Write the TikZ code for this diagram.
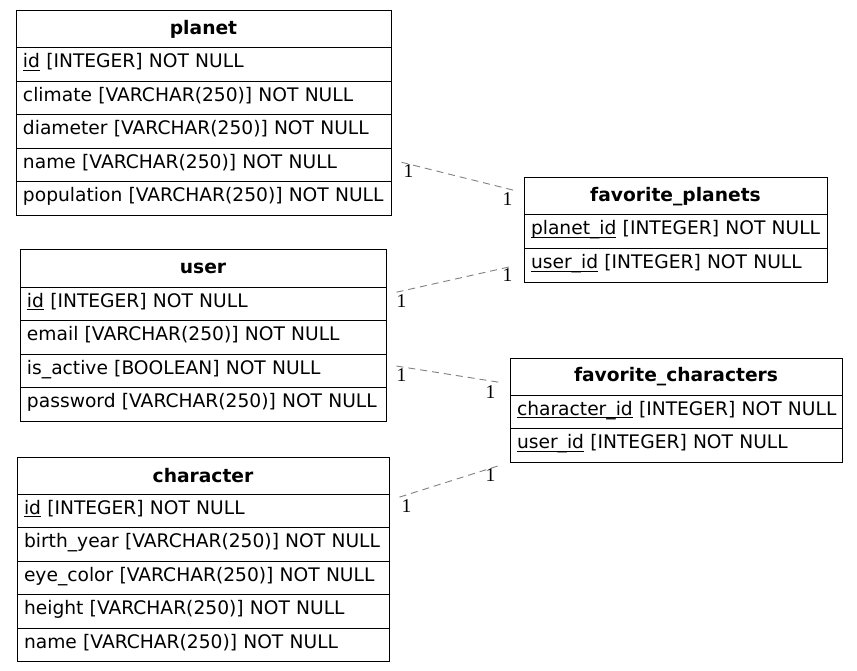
\documentclass[tikz,border=0pt]{standalone}
\usepackage{fontspec}
\setmainfont{DejaVu Sans}
\newfontfamily\lblfont{Liberation Serif}
\newcommand\keyul[1]{\setbox0=\hbox{#1}\rlap{\rule[-3pt]{\wd0}{0.9pt}}\copy0\relax}
\begin{document}
\begin{tikzpicture}[x=1pt,y=-1pt,
  tbl/.style={draw, line width=1pt, inner sep=0pt, outer sep=10.5pt},
  hdr/.style={draw, line width=1pt, anchor=north west, inner sep=0pt, outer sep=0pt,
    minimum height=37pt, font=\fontsize{18.67pt}{22pt}\selectfont\bfseries},
  fld/.style={draw, line width=1pt, anchor=north west, inner xsep=7pt, inner ysep=0pt, outer sep=0pt,
    minimum height=33.5pt, text height=14pt, text depth=7.5pt, align=left, font=\fontsize{18.67pt}{22pt}\selectfont},
  conn/.style={draw={rgb,255:red,128;green,128;blue,128}, line width=0.9pt, dash pattern=on 7pt off 5pt},
  lbl/.style={inner sep=0pt, font=\lblfont\fontsize{19.5pt}{22pt}\selectfont}
]
\useasboundingbox (0,0) rectangle (857,671);

% planet: x 16-391, y 11-215
\node[tbl, minimum width=375pt, minimum height=204.5pt] (planet) at (203.5,113.25) {};
\node[hdr, minimum width=375pt] (planet-h) at (16,11) {planet};
\node[fld, text width=361pt] (planet-r1) at (16,48) {\mbox{\keyul{id} [INTEGER] NOT NULL}};
\node[fld, text width=361pt] (planet-r2) at (16,81.5) {\mbox{climate [VARCHAR(250)] NOT NULL}};
\node[fld, text width=361pt] (planet-r3) at (16,115) {\mbox{diameter [VARCHAR(250)] NOT NULL}};
\node[fld, text width=361pt] (planet-r4) at (16,148.5) {\mbox{name [VARCHAR(250)] NOT NULL}};
\node[fld, text width=361pt] (planet-r5) at (16,182) {\mbox{population [VARCHAR(250)] NOT NULL}};

% user: x 20-386, y 250-421
\node[tbl, minimum width=366pt, minimum height=171pt] (user) at (203,335.5) {};
\node[hdr, minimum width=366pt] (user-h) at (20,250) {user};
\node[fld, text width=352pt] (user-r1) at (20,287) {\mbox{\keyul{id} [INTEGER] NOT NULL}};
\node[fld, text width=352pt] (user-r2) at (20,320.5) {\mbox{email [VARCHAR(250)] NOT NULL}};
\node[fld, text width=352pt] (user-r3) at (20,354) {\mbox{is\_active [BOOLEAN] NOT NULL}};
\node[fld, text width=352pt] (user-r4) at (20,387.5) {\mbox{password [VARCHAR(250)] NOT NULL}};

% character: x 17-389, y 457-661
\node[tbl, minimum width=372pt, minimum height=204.5pt] (character) at (203,559.25) {};
\node[hdr, minimum width=372pt] (character-h) at (17,457) {character};
\node[fld, text width=358pt] (character-r1) at (17,494) {\mbox{\keyul{id} [INTEGER] NOT NULL}};
\node[fld, text width=358pt] (character-r2) at (17,527.5) {\mbox{birth\_year [VARCHAR(250)] NOT NULL}};
\node[fld, text width=358pt] (character-r3) at (17,561) {\mbox{eye\_color [VARCHAR(250)] NOT NULL}};
\node[fld, text width=358pt] (character-r4) at (17,594.5) {\mbox{height [VARCHAR(250)] NOT NULL}};
\node[fld, text width=358pt] (character-r5) at (17,628) {\mbox{name [VARCHAR(250)] NOT NULL}};

% favorite_planets: x 524-827, y 178-282
\node[tbl, minimum width=303pt, minimum height=104pt] (fp) at (675.5,230) {};
\node[hdr, minimum width=303pt] (fp-h) at (524,178) {favorite\_planets};
\node[fld, text width=289pt] (fp-r1) at (524,215) {\mbox{\keyul{planet\_id} [INTEGER] NOT NULL}};
\node[fld, text width=289pt] (fp-r2) at (524,248.5) {\mbox{\keyul{user\_id} [INTEGER] NOT NULL}};

% favorite_characters: x 510-842, y 358-462
\node[tbl, minimum width=332pt, minimum height=104pt] (fc) at (676,410) {};
\node[hdr, minimum width=332pt] (fc-h) at (510,358) {favorite\_characters};
\node[fld, text width=318pt] (fc-r1) at (510,395) {\mbox{\keyul{character\_id} [INTEGER] NOT NULL}};
\node[fld, text width=318pt] (fc-r2) at (510,428.5) {\mbox{\keyul{user\_id} [INTEGER] NOT NULL}};

% connectors
\draw[conn] (planet) -- (fp)
  node[lbl, pos=0, xshift=7pt, yshift=-9pt] {1}
  node[lbl, pos=1, xshift=-6pt, yshift=-9pt] {1};
\draw[conn] (user) -- (fp)
  node[lbl, pos=0, xshift=5pt, yshift=-9pt] {1}
  node[lbl, pos=1, xshift=-6pt, yshift=-9pt] {1};
\draw[conn] (user) -- (fc)
  node[lbl, pos=0, xshift=5pt, yshift=-9pt] {1}
  node[lbl, pos=1, xshift=-9pt, yshift=-10pt] {1};
\draw[conn] (character) -- (fc)
  node[lbl, pos=0, xshift=7pt, yshift=-9pt] {1}
  node[lbl, pos=1, xshift=-9pt, yshift=-10pt] {1};
\end{tikzpicture}
\end{document}
